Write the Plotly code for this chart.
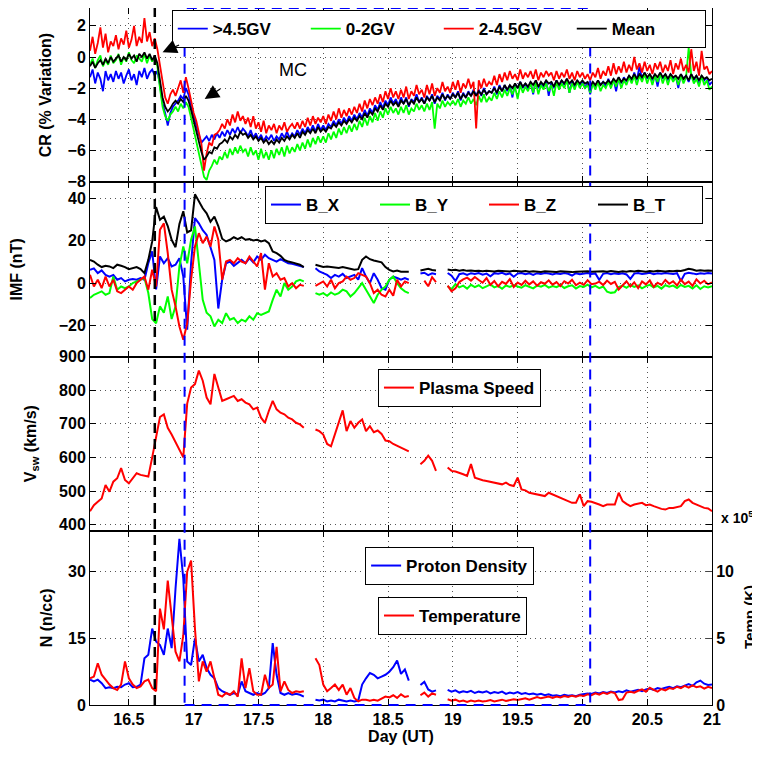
import plotly.graph_objects as go
from plotly.subplots import make_subplots

# ---------------- sampling grids (day of month, UT) ----------------
T0 = 16.2
DT_CR = 0.02            # cosmic-ray sampling step (day)
N_CR = 241
day_cr = [round(T0 + DT_CR * i, 2) for i in range(N_CR)]
DT = 0.03               # solar-wind sampling step (day)
NPTS = 161
day = [round(T0 + DT * i, 2) for i in range(NPTS)]

# ---------------- Panel 1: cosmic ray % variation ----------------
cr_high = [  # >4.5GV
    -1.3,-0.8,-1.7,-1.0,-1.4,-2.2,-0.9,-1.5,-1.1,-1.6,
    -0.9,-1.4,-1.0,-1.7,-1.2,-0.8,-1.5,-1.1,-1.8,-0.9,
    -1.3,-0.7,-1.4,-1.0,-0.8,-1.2,-0.9,-1.8,-3.0,-3.6,
    -4.4,-3.6,-3.2,-3.0,-2.8,-2.5,-2.7,-2.0,-2.4,-3.1,
    -3.8,-4.4,-5.0,-5.5,-5.3,-5.1,-5.4,-5.0,-5.3,-4.9,
    -5.2,-4.8,-5.1,-4.7,-5.0,-4.6,-4.9,-4.5,-4.9,-4.6,
    -4.8,-5.1,-4.7,-5.2,-4.9,-5.3,-5.0,-5.4,-5.1,-5.3,
    -5.0,-5.4,-5.1,-5.3,-4.9,-5.2,-4.8,-5.2,-4.9,-5.1,
    -4.7,-5.0,-4.6,-4.9,-4.5,-4.8,-4.4,-4.8,-4.3,-4.7,
    -4.4,-4.7,-4.3,-4.5,-4.1,-4.4,-4.0,-4.3,-3.9,-4.2,
    -3.8,-4.1,-3.7,-4.0,-3.6,-3.9,-3.4,-3.8,-3.3,-3.6,
    -3.1,-3.4,-2.9,-3.3,-2.8,-3.1,-2.6,-3.0,-2.7,-3.1,
    -2.6,-3.0,-2.6,-3.2,-2.7,-2.9,-2.4,-2.9,-2.6,-3.0,
    -2.5,-2.8,-2.4,-3.0,-2.5,-2.7,-2.3,-2.8,-2.4,-2.7,
    -2.3,-2.6,-2.2,-2.8,-2.3,-2.6,-2.2,-2.5,-2.1,-2.5,
    -2.1,-2.5,-2.0,-2.4,-2.2,-2.3,-1.9,-2.4,-1.8,-2.2,
    -1.8,-2.2,-1.8,-2.6,-1.7,-2.0,-1.6,-2.0,-1.7,-2.1,
    -1.6,-2.4,-1.5,-2.0,-1.7,-1.9,-1.5,-2.5,-1.6,-2.0,
    -1.5,-1.9,-1.5,-1.8,-1.4,-2.3,-1.5,-1.9,-1.5,-1.8,
    -1.6,-2.0,-1.6,-2.4,-1.6,-1.9,-1.5,-1.8,-1.6,-1.9,
    -1.4,-1.8,-1.4,-2.2,-1.3,-1.7,-1.3,-1.6,-1.2,-1.6,
    -1.0,-1.5,-0.6,-1.4,-1.0,-1.4,-1.1,-1.5,-1.1,-1.9,
    -1.0,-1.4,-1.1,-1.5,-1.1,-1.4,-1.2,-2.0,-1.1,-1.4,
    -1.2,-1.6,-1.1,-1.5,-1.2,-1.7,-1.2,-1.5,-1.3,-1.8,
    -1.6]
cr_low = [  # 0-2GV
    -0.5,-0.1,-0.7,-0.2,0.1,-0.6,-0.2,-0.5,0.1,-0.4,
    -0.2,0.2,-0.5,0.0,-0.3,0.3,-0.2,-0.4,0.1,-0.1,
    -0.3,0.2,-0.4,0.1,-0.3,0.0,-0.6,-2.0,-3.2,-3.8,
    -4.1,-3.7,-3.5,-3.2,-3.5,-3.0,-3.3,-2.9,-3.2,-3.9,
    -4.7,-5.4,-6.2,-7.1,-7.7,-7.9,-7.3,-7.0,-6.6,-6.9,
    -6.4,-6.6,-6.1,-6.5,-5.9,-6.3,-5.8,-6.2,-5.7,-6.1,
    -5.9,-6.4,-5.8,-6.3,-6.0,-6.6,-5.9,-6.5,-6.1,-6.6,
    -6.0,-6.5,-5.9,-6.3,-5.8,-6.4,-5.7,-6.2,-5.8,-6.1,
    -5.6,-6.0,-5.5,-5.9,-5.3,-5.8,-5.2,-5.6,-5.1,-5.5,
    -5.1,-5.5,-4.9,-5.3,-4.8,-5.2,-4.6,-5.0,-4.5,-4.9,
    -4.4,-4.8,-4.3,-4.7,-4.1,-4.5,-3.9,-4.4,-3.8,-4.2,
    -3.6,-4.1,-3.5,-3.9,-3.3,-3.7,-3.2,-3.6,-3.3,-3.7,
    -3.2,-3.6,-3.1,-3.7,-3.3,-3.5,-3.0,-3.4,-3.1,-3.5,
    -3.0,-3.4,-2.9,-4.6,-3.0,-3.3,-2.8,-3.2,-2.9,-3.1,
    -2.8,-3.1,-2.7,-3.2,-2.8,-3.0,-2.6,-3.0,-2.7,-3.1,
    -2.5,-2.9,-2.4,-2.9,-2.6,-2.8,-2.3,-2.7,-2.2,-2.6,
    -2.1,-2.5,-2.0,-2.4,-1.9,-2.7,-1.8,-2.3,-1.9,-2.2,
    -1.7,-2.3,-1.6,-2.4,-1.8,-2.1,-1.7,-2.2,-1.8,-2.5,
    -1.6,-2.1,-1.7,-2.0,-1.5,-2.3,-1.7,-2.1,-1.6,-2.0,
    -1.7,-2.0,-1.8,-2.3,-1.7,-2.1,-1.6,-2.2,-1.8,-2.0,
    -1.6,-2.0,-1.5,-1.9,-1.4,-2.0,-1.5,-1.8,-1.3,-1.7,
    -1.2,-1.8,-1.2,-1.6,-1.1,-1.7,-1.2,-1.8,-1.2,-1.6,
    -1.1,-1.7,-1.2,-1.8,-1.2,-1.6,-1.3,-1.8,-1.2,-1.7,
    -1.3,0.6,-1.2,-1.7,-1.4,-1.9,-1.2,-1.8,-1.5,-2.1,
    -1.9]
cr_mid = [  # 2-4.5GV
    0.4,1.3,0.2,0.9,1.9,0.6,1.5,0.3,1.0,0.7,
    1.4,0.5,1.2,0.8,1.7,0.6,1.1,2.0,0.7,1.3,
    0.9,2.5,1.0,1.6,0.7,1.2,0.5,-0.6,-1.8,-2.6,
    -3.0,-2.4,-2.1,-2.5,-2.0,-1.5,-2.3,-1.3,-2.0,-2.9,
    -3.6,-4.1,-4.9,-5.6,-7.3,-6.2,-5.5,-5.7,-5.0,-4.9,
    -4.7,-4.3,-4.6,-4.0,-4.4,-3.7,-4.2,-3.5,-4.1,-3.8,
    -4.3,-3.9,-4.5,-3.8,-4.6,-4.2,-4.8,-4.1,-4.9,-4.4,
    -4.7,-4.3,-4.9,-4.4,-4.7,-4.2,-4.8,-4.5,-4.3,-4.6,
    -4.2,-4.6,-4.1,-4.5,-3.9,-4.4,-3.8,-4.3,-3.9,-4.2,
    -3.8,-4.3,-3.7,-4.1,-3.5,-4.0,-3.3,-3.9,-3.4,-3.8,
    -3.3,-3.7,-3.2,-3.6,-3.0,-3.5,-2.8,-3.3,-2.7,-3.1,
    -2.6,-3.0,-2.4,-2.9,-2.2,-2.7,-2.0,-2.6,-2.2,-2.7,
    -2.1,-2.6,-1.9,-2.7,-2.2,-2.5,-1.8,-2.4,-2.1,-2.6,
    -1.8,-2.4,-1.7,-2.5,-2.0,-2.3,-1.6,-2.2,-1.9,-2.3,
    -1.6,-2.1,-1.5,-2.3,-1.7,-2.0,-1.4,-2.0,-1.6,-4.6,
    -1.5,-2.0,-1.4,-1.9,-1.6,-1.8,-1.2,-1.8,-1.1,-1.6,
    -1.0,-1.5,-0.9,-1.4,-1.1,-1.5,-0.8,-1.4,-1.0,-1.3,
    -0.9,-1.4,-0.8,-1.5,-1.0,-1.3,-0.9,-1.2,-1.0,-1.5,
    -0.9,-1.4,-1.0,-1.3,-0.8,-1.4,-1.0,-1.5,-0.9,-1.3,
    -1.0,-1.4,-1.1,-1.5,-1.0,-1.3,-0.7,-1.4,-0.9,-1.2,
    -0.6,-1.2,-0.4,-1.1,-0.6,-1.0,-0.3,-1.0,-0.5,-0.9,
    0.0,-0.8,-0.4,-1.0,-0.3,-0.9,-0.5,-1.1,-0.4,-0.8,
    -0.3,-1.0,-0.5,-0.9,-0.2,-1.1,-0.4,-0.8,-0.1,-0.9,
    -0.5,-1.0,0.5,-0.9,-0.3,-1.2,0.4,-0.8,-0.6,-1.1,
    -0.9]
cr_mean = [
    -0.6,-0.3,-0.7,-0.4,-0.2,-0.5,-0.1,-0.4,0.0,-0.3,
    -0.1,0.1,-0.3,0.0,-0.2,0.2,-0.1,0.1,-0.3,0.2,
    0.0,0.3,-0.1,0.2,-0.2,0.1,-0.4,-1.5,-2.6,-3.2,
    -3.5,-3.3,-3.0,-2.8,-3.0,-2.7,-2.9,-2.5,-2.8,-3.4,
    -4.1,-4.7,-5.4,-6.1,-6.6,-6.4,-6.1,-6.2,-5.8,-5.9,
    -5.6,-5.5,-5.3,-5.5,-5.1,-5.3,-5.0,-5.2,-4.8,-5.0,
    -4.9,-5.2,-5.0,-5.3,-5.1,-5.4,-5.2,-5.5,-5.3,-5.6,
    -5.4,-5.6,-5.3,-5.5,-5.2,-5.4,-5.1,-5.3,-5.0,-5.2,
    -4.9,-5.2,-4.8,-5.0,-4.7,-4.9,-4.6,-4.9,-4.5,-4.8,
    -4.6,-4.8,-4.5,-4.6,-4.3,-4.5,-4.2,-4.4,-4.1,-4.3,
    -4.0,-4.2,-3.9,-4.1,-3.8,-4.0,-3.6,-3.9,-3.5,-3.7,
    -3.3,-3.5,-3.1,-3.4,-3.0,-3.2,-2.8,-3.1,-2.9,-3.2,
    -2.8,-3.0,-2.7,-3.1,-2.8,-3.0,-2.6,-2.9,-2.7,-3.0,
    -2.6,-2.8,-2.5,-2.9,-2.6,-2.8,-2.4,-2.7,-2.5,-2.7,
    -2.4,-2.6,-2.3,-2.7,-2.4,-2.6,-2.3,-2.5,-2.2,-2.5,
    -2.2,-2.4,-2.1,-2.4,-2.2,-2.3,-2.0,-2.3,-1.9,-2.2,
    -1.8,-2.1,-1.8,-2.0,-1.7,-2.0,-1.6,-1.9,-1.7,-1.9,
    -1.6,-1.8,-1.5,-1.9,-1.6,-1.8,-1.5,-1.7,-1.6,-1.9,
    -1.5,-1.8,-1.5,-1.7,-1.4,-1.7,-1.5,-1.8,-1.5,-1.7,
    -1.5,-1.7,-1.6,-1.9,-1.6,-1.8,-1.5,-1.8,-1.6,-1.7,
    -1.5,-1.7,-1.4,-1.6,-1.3,-1.6,-1.4,-1.5,-1.2,-1.4,
    -1.1,-1.4,-1.1,-1.3,-1.0,-1.3,-1.1,-1.4,-1.1,-1.3,
    -1.0,-1.3,-1.1,-1.4,-1.1,-1.3,-1.2,-1.4,-1.1,-1.4,
    -1.2,-1.5,-1.1,-1.4,-1.2,-1.5,-1.2,-1.4,-1.3,-1.5,
    -1.4]

# ---------------- Panel 2: IMF (nT) ----------------
b_x = [
    6.3,7.0,4.7,6.0,3.9,3.1,3.9,1.6,2.4,0.8,
    1.6,1.9,1.6,2.4,1.6,9.4,15.0,-3.0,12.6,9.4,
    11.8,7.9,8.7,11.8,3.1,-22.0,9.4,30.7,28.3,25.0,
    22.8,17.3,11.0,-12.0,1.6,9.4,10.2,8.2,9.4,11.0,
    9.4,11.8,9.8,12.6,11.0,13.4,11.8,11.0,10.2,11.3,
    10.2,9.4,9.1,8.7,8.2,7.6,None,None,7.0,5.5,
    4.7,3.9,2.4,3.9,3.1,4.4,2.4,3.1,3.9,1.6,
    7.1,3.1,0.0,4.7,1.6,-2.4,-3.1,1.6,3.1,2.4,
    1.6,2.4,1.6,None,None,4.5,4.9,3.8,4.6,4.2,
    None,None,4.8,3.5,1.0,4.2,4.6,3.9,4.7,4.3,
    4.8,4.0,4.5,3.2,4.7,4.4,4.9,4.1,4.6,3.0,
    4.5,4.8,4.2,4.6,3.9,4.7,4.3,4.8,4.5,4.1,
    4.6,4.3,4.8,4.4,3.6,4.7,4.2,4.5,4.8,4.3,
    4.6,1.5,4.4,4.8,4.2,4.6,4.3,4.7,4.1,2.0,
    4.5,4.8,4.3,4.6,4.9,4.2,4.7,4.4,4.8,4.5,
    4.3,4.7,1.0,4.4,4.9,4.6,4.2,4.7,4.4,4.8,
    4.5]
b_y = [
    -7.0,-5.5,-4.7,-3.9,-5.5,-4.7,3.1,-3.1,-1.6,-2.4,
    -1.6,0.0,0.8,1.6,2.4,-4.7,-17.0,-19.0,-11.0,-14.0,
    -6.3,-17.0,-11.0,7.9,17.3,9.4,20.5,26.8,9.4,-7.9,
    -14.0,-15.7,-20.5,-17.3,-18.9,-14.2,-17.3,-16.5,-18.9,-17.3,
    -18.1,-15.7,-17.3,-14.2,-15.0,-14.2,-13.4,-7.9,-3.1,-6.3,
    0.0,-3.1,-1.6,0.8,1.6,0.8,None,None,-4.7,-5.5,
    -4.7,-6.0,-4.4,-5.5,-4.7,-3.1,-3.9,-6.3,-4.7,-2.4,
    0.0,-3.1,-6.3,-9.4,-5.5,-3.1,-1.6,1.6,3.1,0.0,
    -2.4,-3.9,-4.7,None,None,None,None,None,None,None,
    None,None,-1.5,-2.8,-0.5,-2.0,-1.2,-2.6,-0.8,-1.9,
    -1.0,-2.4,-1.5,-0.6,-2.0,-1.3,-2.7,-1.1,-1.8,-0.9,
    -1.6,-2.2,-1.0,-1.9,-2.5,-1.2,-1.7,-0.8,-2.1,-1.4,
    -1.9,-0.9,-2.3,-1.5,-1.0,-2.6,-1.4,-1.8,-0.7,-2.0,
    -1.3,-2.4,-1.6,-4.0,-4.6,-4.3,-1.9,-1.2,-2.2,-0.9,
    -1.8,-1.1,-2.5,-1.4,-0.8,-2.0,-1.3,-2.6,-1.0,-1.7,
    -1.2,-2.3,-0.9,-1.8,-1.3,-2.5,-1.0,-2.8,-1.5,-2.0,
    -1.4]
b_z = [
    3.9,-1.6,1.6,-2.4,3.1,-1.6,1.6,-3.9,-4.7,-3.1,
    -1.6,-3.1,0.0,1.6,3.1,-3.1,6.3,-1.6,25.2,28.3,
    14.2,-3.1,-11.0,-20.5,-26.8,-19.0,1.6,17.3,23.6,18.9,
    22.0,17.3,26.8,20.5,1.6,10.2,11.0,9.4,11.8,10.2,
    9.4,12.6,10.2,7.9,14.2,-3.1,9.4,3.1,4.7,1.6,
    2.4,-1.6,0.0,-2.4,-0.8,-1.3,None,None,-1.3,-0.3,
    0.8,-1.6,1.6,-2.4,0.0,0.8,3.1,1.6,2.4,4.7,
    3.9,3.1,0.0,-4.7,-3.1,-5.5,-6.3,-3.1,-6.0,1.6,
    -1.6,0.8,0.0,None,None,None,1.2,-1.5,2.8,0.5,
    None,None,-1.2,-3.9,-2.5,0.5,1.8,2.6,1.2,2.9,
    1.5,0.2,2.4,-0.8,1.0,-1.5,0.6,-0.4,1.9,-1.8,
    0.3,-0.9,1.1,-0.6,0.8,-1.2,0.4,-0.3,1.3,-0.7,
    0.5,-1.4,0.9,-0.2,1.6,-1.0,0.2,-0.8,1.4,-0.5,
    -0.2,0.7,-0.9,1.2,-0.4,0.6,-3.0,-1.2,0.9,-1.6,
    0.4,-2.4,0.8,-0.6,1.3,-1.8,0.2,-0.9,1.5,-0.3,
    0.9,-1.1,1.6,-0.5,0.7,-1.3,1.8,-0.2,1.1,-0.6,
    0.3]
b_t = [
    11.0,10.2,8.7,7.6,8.2,7.9,7.1,8.7,8.2,7.6,
    6.6,7.0,7.6,6.6,4.7,11.0,19.7,36.0,30.0,31.5,
    27.0,20.5,17.0,28.0,34.0,24.0,25.0,42.0,38.6,35.4,
    33.0,29.0,31.5,27.0,21.0,19.7,20.5,21.7,20.8,21.7,
    20.5,20.8,20.2,20.5,19.7,20.2,18.9,15.0,14.2,12.9,
    11.0,10.2,9.8,9.1,8.7,7.6,None,None,8.7,8.2,
    7.6,7.9,7.6,7.6,7.2,7.6,7.1,6.6,6.3,6.6,
    11.0,12.6,11.3,10.7,10.2,9.8,7.6,6.3,5.5,6.0,
    5.4,5.5,5.4,None,None,6.0,6.5,6.8,6.2,6.0,
    None,None,6.4,6.1,6.3,5.9,6.2,5.8,6.0,5.7,
    5.9,5.6,5.8,5.7,5.5,5.8,5.6,5.7,5.5,5.8,
    5.6,5.5,5.7,5.4,5.6,5.5,5.3,5.6,5.4,5.5,
    5.3,5.6,5.4,5.5,5.2,5.4,5.5,5.3,5.6,5.4,
    5.5,5.3,5.6,5.4,5.7,5.5,5.3,5.6,5.4,5.7,
    5.5,5.8,5.6,5.4,5.7,5.5,5.8,5.6,5.5,5.7,
    5.6,5.9,5.7,6.2,6.8,6.4,5.9,6.1,5.8,6.0,
    5.9]

# ---------------- Panel 3: solar wind speed (km/s) ----------------
v_sw = [
    440,458,468,478,518,498,528,538,568,533,
    523,538,553,548,546,543,600,660,720,728,
    688,668,645,620,600,760,808,818,858,828,
    778,758,848,808,768,773,778,783,768,773,
    763,758,743,748,718,703,738,768,743,733,
    728,718,713,703,698,688,None,None,683,678,
    668,640,633,668,698,740,678,708,688,703,
    713,678,693,675,680,670,650,648,640,635,
    630,625,618,None,None,580,590,605,590,560,
    None,None,570,560,558,555,550,545,580,540,
    535,532,530,527,525,522,520,525,518,515,
    540,505,502,495,492,490,488,485,495,490,
    485,480,475,470,465,465,490,455,470,468,
    465,460,455,460,460,460,495,470,462,455,
    460,462,465,458,460,455,450,447,445,450,
    450,452,455,470,475,465,460,455,450,448,
    440]

# ---------------- Panel 4: proton density (n/cc) and temperature (1e5 K) ----------------
n_p = [
    5.7,5.3,5.7,4.9,3.8,4.0,3.8,4.1,4.0,4.6,
    4.9,4.0,4.1,4.6,10.5,11.3,17.2,14.3,13.5,11.3,
    17.2,12.8,26.2,37.4,28.4,9.8,9.0,15.0,9.8,11.3,
    8.3,6.8,6.0,3.8,3.1,2.7,2.3,2.7,2.3,5.3,
    3.1,2.7,2.3,2.7,2.3,2.7,3.8,13.9,6.8,2.7,
    2.3,2.7,2.3,2.5,2.3,1.9,None,None,1.2,1.0,
    1.2,0.8,1.0,0.8,1.2,1.0,0.8,1.0,0.8,1.0,
    4.6,6.0,7.2,6.8,6.0,6.4,6.8,7.5,8.5,10.0,
    7.0,8.0,5.5,None,None,4.5,5.2,3.5,3.0,3.3,
    None,None,3.4,3.0,3.3,2.8,3.1,2.9,3.2,2.7,
    3.0,2.8,3.1,2.6,2.9,2.7,3.0,2.5,2.8,2.6,
    2.9,2.5,2.7,2.4,2.6,2.3,2.5,2.2,2.4,2.1,
    2.2,2.0,2.3,2.1,2.2,2.0,2.3,2.4,2.6,2.5,
    2.8,2.6,2.9,2.7,3.0,2.8,3.1,2.9,3.3,3.0,
    3.2,3.4,3.1,3.5,3.7,3.4,3.8,3.6,3.9,4.1,
    3.8,4.2,4.0,4.4,4.7,4.3,5.1,5.5,4.8,4.5,
    4.6]
temp = [
    2.0,2.13,3.13,2.27,1.9,1.53,1.27,1.13,1.53,3.27,
    2.0,1.53,1.27,1.4,1.77,1.9,1.27,1.03,7.23,5.67,
    9.33,6.67,4.0,3.27,5.23,10.0,10.83,5.73,1.77,3.27,
    2.5,3.27,2.0,0.77,0.63,0.9,0.77,1.03,0.63,3.5,
    1.27,2.77,1.03,0.77,0.77,2.27,1.27,1.53,4.37,1.03,
    1.77,1.13,0.9,1.03,0.97,1.03,None,None,3.5,3.0,
    1.53,1.03,1.27,1.53,1.13,1.53,0.77,1.27,0.53,0.27,
    0.4,0.4,0.33,0.4,0.33,0.47,0.63,0.57,0.73,0.53,
    0.8,0.6,0.67,None,None,0.73,0.93,0.63,0.87,0.77,
    None,None,0.43,0.33,0.4,0.27,0.33,0.23,0.33,0.27,
    0.33,0.27,0.3,0.37,0.27,0.33,0.4,0.3,0.37,0.43,
    0.37,0.43,0.5,0.4,0.53,0.6,0.5,0.57,0.63,0.53,
    0.63,0.57,0.67,0.6,0.7,0.63,0.73,0.67,0.8,0.73,
    0.87,0.77,0.93,0.83,0.97,0.9,0.37,0.43,0.93,1.0,
    0.93,1.07,1.17,1.0,1.3,1.13,1.0,1.2,1.1,1.27,
    1.2,1.37,1.27,1.43,1.3,1.47,1.33,1.4,1.23,1.37,
    1.27]

# event markers (day)
shock_day = 16.70
mc_start = 16.93
mc_end = 20.06

x_ticks = [16.5, 17, 17.5, 18, 18.5, 19, 19.5, 20, 20.5, 21]
x_tick_text = ["16.5", "17", "17.5", "18", "18.5", "19", "19.5", "20", "20.5", "21"]

# ---------------- figure ----------------
FONT = "Liberation Sans"
BLUE, GREEN, RED, BLACK = "#0000ff", "#00ff00", "#ff0000", "#000000"

fig = make_subplots(rows=4, cols=1, shared_xaxes=True, vertical_spacing=0,
                    specs=[[{}], [{}], [{}], [{"secondary_y": True}]])

LW = 2
for name, ys, col in [(">4.5GV", cr_high, BLUE), ("0-2GV", cr_low, GREEN),
                      ("2-4.5GV", cr_mid, RED), ("Mean", cr_mean, BLACK)]:
    fig.add_trace(go.Scatter(x=day_cr, y=ys, name=name, mode="lines",
                             line=dict(color=col, width=1.8), legend="legend"), row=1, col=1)

for name, ys, col in [("B_X", b_x, BLUE), ("B_Y", b_y, GREEN),
                      ("B_Z", b_z, RED), ("B_T", b_t, BLACK)]:
    fig.add_trace(go.Scatter(x=day, y=ys, name=name, mode="lines",
                             line=dict(color=col, width=LW), legend="legend2"), row=2, col=1)

fig.add_trace(go.Scatter(x=day, y=v_sw, name="Plasma Speed", mode="lines",
                         line=dict(color=RED, width=LW), legend="legend3"), row=3, col=1)

fig.add_trace(go.Scatter(x=day, y=n_p, name="Proton Density", mode="lines",
                         line=dict(color=BLUE, width=LW), legend="legend4"),
              row=4, col=1, secondary_y=False)
fig.add_trace(go.Scatter(x=day, y=temp, name="Temperature", mode="lines",
                         line=dict(color=RED, width=LW), legend="legend5"),
              row=4, col=1, secondary_y=True)

tickfont = dict(family=FONT, size=16, color="black", weight="bold")
titlefont = dict(family=FONT, size=16, color="black", weight="bold")
grid = dict(showgrid=True, gridcolor="#555555", gridwidth=1, griddash="1px,4px")
axcommon = dict(showline=True, linecolor="black", linewidth=1, mirror="ticks",
                ticks="inside", ticklen=6, tickcolor="black", zeroline=False,
                tickfont=tickfont, automargin=False)

for r in range(1, 5):
    fig.update_xaxes(range=[16.2, 21.0], tickvals=x_ticks, ticktext=x_tick_text,
                     domain=[0, 1], showticklabels=(r == 4), row=r, col=1,
                     **axcommon, **grid)
fig.update_xaxes(title=dict(text="Day (UT)", font=titlefont, standoff=2), row=4, col=1)

fig.update_yaxes(range=[-8.05, 3.15], tickvals=[-8, -6, -4, -2, 0, 2],
                 title=dict(text="CR (% Variation)", font=titlefont, standoff=11),
                 row=1, col=1, **axcommon, **grid)
fig.update_yaxes(range=[-34.7, 47.7], tickvals=[-20, 0, 20, 40],
                 title=dict(text="IMF (nT)", font=titlefont, standoff=34),
                 row=2, col=1, **axcommon, **grid)
fig.update_yaxes(range=[382, 900], tickvals=[400, 500, 600, 700, 800, 900],
                 title=dict(text="V<sub>sw</sub> (km/s)", font=titlefont, standoff=18),
                 row=3, col=1, **axcommon, **grid)
fig.update_yaxes(range=[0, 39.2], tickvals=[0, 15, 30],
                 title=dict(text="N (n/cc)", font=titlefont, standoff=11),
                 row=4, col=1, secondary_y=False, **axcommon, **grid)
fig.update_yaxes(range=[0, 13.07], tickvals=[0, 5, 10], showgrid=True,
                 gridcolor="#555555", griddash="1px,4px",
                 showline=True, linecolor="black", ticks="inside", ticklen=6,
                 tickfont=tickfont, zeroline=False, automargin=False,
                 row=4, col=1, secondary_y=True)

legbase = dict(bgcolor="white", bordercolor="black", borderwidth=1,
               font=dict(family=FONT, size=17, color="black", weight="bold"),
               xanchor="right", yanchor="top", orientation="h",
               traceorder="normal", itemclick=False, itemdoubleclick=False)

fig.update_layout(
    width=760, height=757,
    margin=dict(l=82, r=56, t=0, b=60, autoexpand=False),
    plot_bgcolor="white", paper_bgcolor="white",
    showlegend=True,
    legend=dict(x=0.990, y=0.997, entrywidth=88, **legbase),
    legend2=dict(x=0.9855, y=0.7446, entrywidth=64, **legbase),
    legend3=dict(x=0.725, y=0.482, **legbase),
    legend4=dict(x=0.714, y=0.2267, **legbase),
    legend5=dict(x=0.7026, y=0.155, **legbase),
)

# event lines: shock (black dashed) and magnetic cloud interval (blue dashed box)
fig.add_shape(type="line", xref="x4", yref="paper", x0=shock_day, x1=shock_day,
              y0=0, y1=1, line=dict(color="black", width=2.5, dash="10px,6px"), layer="above")
fig.add_shape(type="rect", xref="x4", yref="paper", x0=mc_start, x1=mc_end,
              y0=0, y1=1, line=dict(color=BLUE, width=2, dash="10px,7px"), layer="above")

# annotations
fig.add_annotation(x=17.765, y=-0.86, xref="x", yref="y", text="MC", showarrow=False,
                   font=dict(family=FONT, size=18, color="black"))
fig.add_annotation(x=16.76, y=0.3, xref="x", yref="y", text="", showarrow=True,
                   arrowhead=2, arrowsize=2.2, arrowwidth=1.3, arrowcolor="black",
                   ax=18, ay=-8, standoff=0)
fig.add_annotation(x=17.085, y=-2.7, xref="x", yref="y", text="", showarrow=True,
                   arrowhead=2, arrowsize=2.2, arrowwidth=1.3, arrowcolor="black",
                   ax=17, ay=-11, standoff=0)
fig.add_annotation(x=1.012, y=0.27, xref="paper", yref="paper", xanchor="left",
                   yanchor="middle", text="x 10<sup>5</sup>", showarrow=False,
                   font=dict(family=FONT, size=14, color="black", weight="bold"))
fig.add_annotation(x=1.059, y=0.126, xref="paper", yref="paper", xanchor="center",
                   yanchor="middle", text="Temp (K)", textangle=-90, showarrow=False,
                   font=dict(family=FONT, size=15, color="black", weight="bold"))

fig.write_html("out.html")
